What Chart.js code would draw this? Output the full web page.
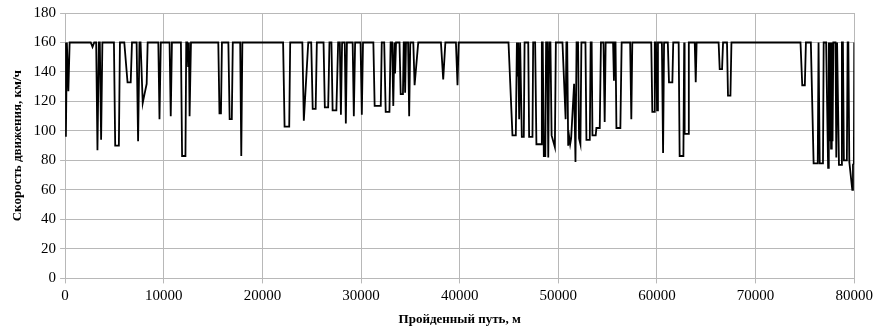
<!DOCTYPE html>
<html lang="ru">
<head>
  <meta charset="UTF-8" />
  <title>Скорость движения</title>
  <script src="https://cdn.jsdelivr.net/npm/chart.js"></script>
  <style>
    body {
      margin: 0;
      padding: 0;
      background: #ffffff;
    }

    .wrap {
      width: 877px;
      height: 328px;
      position: relative;
    }
  </style>
</head>
<body>
  <div class="wrap">
    <canvas id="speedChart"></canvas>
  </div>

  <script>
    // Пройденный путь, м
    const distance = [
      0, 80, 180, 330, 460,
      2600, 2780, 2950,
      3150, 3280, 3420, 3520, 3650, 3780,
      4950, 5080, 5450, 5560,
      6000, 6330, 6650, 6780,
      7250, 7400, 7540, 7650, 7870, 8050, 8270, 8370,
      9450, 9570, 9700,
      10590, 10710, 10830,
      11740, 11860, 12200, 12280,
      12380, 12470, 12550, 12620, 12760,
      15530, 15650, 15800, 15900,
      16550, 16680, 16900, 17000,
      17750, 17860, 17970,
      22100, 22250, 22720, 22820,
      24050, 24200, 24650,
      24950, 25100, 25400, 25520,
      26200, 26330, 26670, 26800,
      27000, 27120, 27500, 27680,
      27850, 27960, 28080,
      28350, 28460, 28570,
      29150, 29270, 29400,
      29950, 30080, 30200,
      31250, 31380, 32000, 32100,
      32350, 32500, 32880, 33000,
      33150, 33270, 33380, 33450, 33550,
      33900, 34020, 34250, 34330, 34400, 34470, 34560,
      34770, 34880, 34990,
      35300, 35430, 35800,
      38100, 38330, 38550,
      39620, 39780, 39900,
      44950, 45350, 45690, 45800, 45850, 45930, 46030, 46130,
      46200, 46300, 46500, 46580,
      46950, 47040, 47380, 47450,
      47650, 47780, 48250, 48330,
      48420, 48530, 48680, 48760,
      48880, 48980, 49080,
      49200, 49320, 49650, 49750,
      50420, 50740, 50820,
      50900, 51000, 51100, 51200, 51300, 51600, 51740, 51850,
      52000, 52100, 52240, 52340,
      52750, 52850, 53190, 53280,
      53380, 53460, 53790, 53860, 54200, 54320,
      54580, 54700, 54800,
      55550, 55640, 55720,
      55800, 55890, 56290, 56420,
      57280, 57400, 57500,
      59420, 59530, 59700, 59780,
      59900, 60010, 60100,
      60500, 60620, 60720,
      61100, 61220, 61560, 61650,
      62200, 62300, 62680, 62760,
      62780, 62830, 63150, 63230,
      63830, 63930, 64020,
      66250, 66360, 66600, 66700,
      67100, 67200, 67450, 67550,
      74550, 74730, 74990, 75100,
      75600, 75880, 76300, 76380,
      76420, 76500, 76830, 76900,
      77150, 77350, 77420, 77500, 77580, 77650, 77720, 77800, 77880,
      78100, 78180, 78260, 78350, 78450, 78680, 78750,
      78850, 78950, 79250, 79330,
      79400, 79500, 79800, 79870, 79960, 80000
    ];

    // Скорость движения, км/ч
    const speed = [
      160, 96, 160, 127, 160,
      160, 157, 160,
      160, 87, 160, 160, 94, 160,
      160, 90, 90, 160,
      160, 133, 133, 160,
      160, 93, 160, 160, 119, 125, 132, 160,
      160, 108, 160,
      160, 110, 160,
      160, 83, 83, 160,
      160, 144, 160, 110, 160,
      160, 112, 112, 160,
      160, 108, 108, 160,
      160, 83, 160,
      160, 103, 103, 160,
      160, 107, 160,
      160, 115, 115, 160,
      160, 116, 116, 160,
      160, 114, 114, 160,
      160, 111, 160,
      160, 105, 160,
      160, 110, 160,
      160, 111, 160,
      160, 117, 117, 160,
      160, 113, 113, 160,
      160, 117, 160, 139, 160,
      160, 125, 125, 160, 160, 126, 160,
      160, 110, 160,
      160, 131, 160,
      160, 135, 160,
      160, 131, 160,
      160, 97, 97, 160, 137, 160, 108, 160,
      160, 96, 96, 160,
      160, 96, 96, 160,
      160, 91, 91, 160,
      160, 83, 83, 160,
      160, 82, 160,
      160, 97, 89, 160,
      160, 108, 160,
      160, 90, 96, 91, 95, 132, 79, 160,
      160, 95, 91, 160,
      160, 94, 94, 160,
      160, 97, 97, 102, 102, 160,
      160, 106, 160,
      160, 134, 160,
      160, 102, 102, 160,
      160, 108, 160,
      160, 113, 113, 160,
      160, 114, 160,
      160, 85, 160,
      160, 133, 133, 160,
      160, 83, 83, 160,
      160, 98, 98, 160,
      160, 133, 160,
      160, 142, 142, 160,
      160, 124, 124, 160,
      160, 131, 131, 160,
      160, 78, 78, 160,
      160, 78, 78, 160,
      160, 75, 160, 93, 160, 88, 160, 93, 160,
      160, 82, 160, 160, 77, 77, 160,
      160, 80, 80, 160,
      160, 79, 60, 77, 78, 160
    ];

    const xTickStep = 10000;
    const yTickStep = 20;

    const points = distance.map((d, i) => ({ x: d, y: speed[i] }));

    const serif = '"Liberation Serif", "Times New Roman", serif';
    const gridColor = '#b8b8b8';

    new Chart(document.getElementById('speedChart'), {
      type: 'line',
      data: {
        datasets: [{
          data: points,
          borderColor: '#000000',
          borderWidth: 1.8,
          pointRadius: 0,
          tension: 0,
          fill: false
        }]
      },
      options: {
        responsive: true,
        maintainAspectRatio: false,
        animation: false,
        layout: {
          padding: { top: 10.5, right: 6, left: 10, bottom: 1 }
        },
        plugins: {
          legend: { display: false },
          tooltip: { enabled: false }
        },
        scales: {
          x: {
            type: 'linear',
            min: 0,
            max: 80000,
            ticks: {
              stepSize: xTickStep,
              color: '#000',
              font: { family: serif, size: 15 },
              maxRotation: 0,
              padding: 4,
              callback: v => String(v)
            },
            grid: { color: gridColor, tickLength: 5, lineWidth: 1 },
            border: { color: gridColor },
            title: {
              display: true,
              text: 'Пройденный путь, м',
              color: '#000',
              font: { family: serif, size: 13, weight: 'bold' },
              padding: { top: 2, bottom: 0 }
            }
          },
          y: {
            min: 0,
            max: 180,
            ticks: {
              stepSize: yTickStep,
              color: '#000',
              font: { family: serif, size: 15 },
              padding: 4
            },
            grid: { color: gridColor, tickLength: 5, lineWidth: 1 },
            border: { color: gridColor },
            title: {
              display: true,
              text: 'Скорость движения, км/ч',
              color: '#000',
              font: { family: serif, size: 13, weight: 'bold' },
              padding: { top: 0, bottom: 4 }
            }
          }
        }
      }
    });
  </script>
</body>
</html>
